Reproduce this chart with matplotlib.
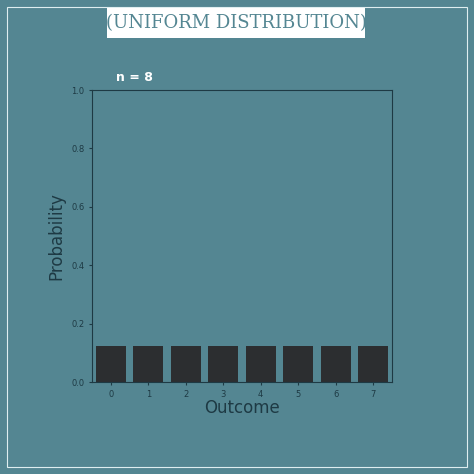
import matplotlib.pyplot as plt
from matplotlib.patches import Rectangle

outcomes = [0, 1, 2, 3, 4, 5, 6, 7]
probs = [0.125] * 8
title = "(UNIFORM DISTRIBUTION)"
bg = "#548692"

fig = plt.figure(figsize=(4.74, 4.74), dpi=100, facecolor=bg)
fig.patches.append(Rectangle((7/474, 7/474), 460/474, 460/474, transform=fig.transFigure,
                             fill=False, edgecolor="#dfeef0", linewidth=0.8))
fig.patches.append(Rectangle((107/474, 1-38/474), 258/474, 30/474, transform=fig.transFigure,
                             facecolor="white", edgecolor="none"))
fig.text(236/474, 1-23/474, title, ha="center", va="center", fontsize=13,
         family="DejaVu Serif", color="#548692")

ax = fig.add_axes([92/474, 92/474, 300/474, 292/474])
ax.set_facecolor(bg)
ax.bar(outcomes, probs, width=0.8, color="#2c2e30")
ax.set_xlim(-0.5, 7.5)
ax.set_ylim(0, 1)
ax.set_xticks(outcomes)
ax.set_yticks([0, 0.2, 0.4, 0.6, 0.8, 1.0])
ax.tick_params(labelsize=6, colors="#1e3a44", length=2)
for s in ax.spines.values():
    s.set_color("#1e3a44")
    s.set_linewidth(0.8)
ax.set_xlabel("Outcome", fontsize=12, color="#1e3a44", labelpad=0)
ax.set_ylabel("Probability", fontsize=12, color="#1e3a44", labelpad=4)
ax.text(0.08, 1.02, "n = 8", transform=ax.transAxes, fontsize=9, weight="bold",
        color="white", family="DejaVu Sans Condensed" if False else "DejaVu Sans", va="bottom")

fig.savefig("out.png", dpi=100, facecolor=bg)
